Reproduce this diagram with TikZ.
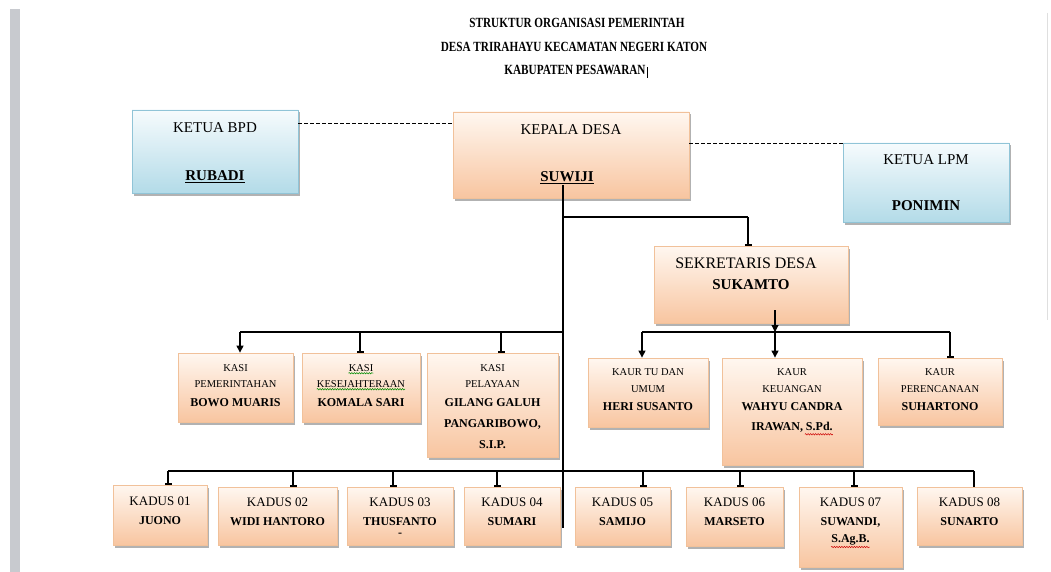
\documentclass[tikz,border=0pt]{standalone}
\usepackage{fontspec}
\setmainfont{Liberation Serif}
\newfontfamily\titlefont[FakeStretch=0.8]{Liberation Serif}
\usetikzlibrary{arrows.meta,shadows,fit,decorations.pathmorphing}
\definecolor{ortop}{HTML}{FFF7F0}
\definecolor{orbot}{HTML}{F8C5A0}
\definecolor{orline}{HTML}{F1C19A}
\definecolor{bltop}{HTML}{F6FBFD}
\definecolor{blbot}{HTML}{B3DBE8}
\definecolor{blline}{HTML}{90C4D7}
\definecolor{pagebar}{HTML}{C8CACF}
\tikzset{
  x=1pt, y=1pt,
  shad/.style={drop shadow={shadow xshift=1.5pt, shadow yshift=-2.5pt, fill=black!55, opacity=.55}},
  obox/.style={shad, draw=orline, line width=0.8pt, top color=ortop, bottom color=orbot, inner sep=0pt},
  bbox/.style={shad, draw=blline, line width=0.8pt, top color=bltop, bottom color=blbot, inner sep=0pt},
  big/.style={inner sep=0pt, font=\fontsize{15}{17}\selectfont},
  bigb/.style={inner sep=0pt, font=\fontsize{15}{17}\selectfont\bfseries},
  sekf/.style={inner sep=0pt, font=\fontsize{16}{18}\selectfont},
  sml/.style={inner sep=0pt, font=\fontsize{10.5}{12}\selectfont},
  smlb/.style={inner sep=0pt, font=\fontsize{12}{14}\selectfont\bfseries},
  kad/.style={inner sep=0pt, font=\fontsize{13}{15}\selectfont},
  ttl/.style={inner sep=0pt, font=\titlefont\bfseries\fontsize{14}{16}\selectfont},
  bar/.style={line width=2.3pt},
  main/.style={line width=2pt},
  drop/.style={line width=1.1pt},
  tee/.style={-{Bar[width=7pt,line width=1.6pt]}},
  arr/.style={-{Triangle[width=7pt,length=7pt]}},
  dsh/.style={line width=1pt, dash pattern=on 3.5pt off 2.5pt},
  squigg/.style={draw=green!55!black, line width=0.5pt, decorate, decoration={snake, amplitude=0.7pt, segment length=2.5pt}},
  squigr/.style={draw=red!80!black, line width=0.5pt, decorate, decoration={snake, amplitude=0.7pt, segment length=2.5pt}},
}
\newcommand\putlabel[5]{\node[#4] (#1) at (#2,-#3) {#5};}
\begin{document}
\begin{tikzpicture}
\useasboundingbox (0,0) rectangle (1051,-572);
\fill[white] (0,0) rectangle (1051,-572);
% page edges
\fill[pagebar] (10,-9) rectangle (20,-572);
\draw[gray!25, line width=0.8pt] (1047,-13) -- (1047,-320);

% title
\putlabel{t1}{577}{23}{ttl}{STRUKTUR ORGANISASI PEMERINTAH}
\putlabel{t2}{574}{47}{ttl}{DESA TRIRAHAYU KECAMATAN NEGERI KATON}
\putlabel{t3}{575}{70}{ttl}{KABUPATEN PESAWARAN}
\draw[line width=0.9pt] ([xshift=1.5pt,yshift=-2pt]t3.north east) -- ([xshift=1.5pt,yshift=-3pt]t3.south east);

% boxes
\node[bbox, fit={(132,-110)(298,-193)}] (bpd) {};
\node[obox, fit={(453,-112)(689,-198)}] (kd) {};
\node[bbox, fit={(843,-143)(1009,-222)}] (lpm) {};
\node[obox, fit={(654,-246)(848,-323)}] (sek) {};
\node[obox, fit={(178,-353)(293,-422)}] (kasi1) {};
\node[obox, fit={(302,-353)(420,-422)}] (kasi2) {};
\node[obox, fit={(427,-353)(558,-457)}] (kasi3) {};
\node[obox, fit={(588,-358)(708,-427)}] (kaur1) {};
\node[obox, fit={(722,-358)(862,-465)}] (kaur2) {};
\node[obox, fit={(878,-358)(1002,-425)}] (kaur3) {};
\node[obox, fit={(113,-485)(207,-545)}] (kadus1) {};
\node[obox, fit={(218,-487)(337,-545)}] (kadus2) {};
\node[obox, fit={(347,-487)(453,-545)}] (kadus3) {};
\node[obox, fit={(464,-487)(560,-545)}] (kadus4) {};
\node[obox, fit={(575,-487)(670,-545)}] (kadus5) {};
\node[obox, fit={(686,-487)(783,-546)}] (kadus6) {};
\node[obox, fit={(799,-487)(902,-567)}] (kadus7) {};
\node[obox, fit={(917,-487)(1022,-545)}] (kadus8) {};

% texts
\putlabel{bpda}{215}{128}{big}{KETUA BPD}
\putlabel{bpdb}{215}{177}{bigb}{\underline{RUBADI}}
\putlabel{kda}{571}{130}{big}{KEPALA DESA}
\putlabel{kdb}{567}{178}{bigb}{\underline{SUWIJI}}
\putlabel{lpma}{926}{160}{big}{KETUA LPM}
\putlabel{lpmb}{926}{206}{bigb}{PONIMIN}
\putlabel{seka}{746}{263}{sekf}{SEKRETARIS DESA}
\putlabel{sekb}{751}{285}{bigb}{SUKAMTO}

\putlabel{ks1a}{235.5}{368}{sml}{KASI}
\putlabel{ks1b}{235.5}{384}{sml}{PEMERINTAHAN}
\putlabel{ks1c}{235.5}{403}{smlb}{BOWO MUARIS}
\putlabel{ks2a}{361}{368}{sml}{KASI}
\putlabel{ks2b}{361}{384}{sml}{KESEJAHTERAAN}
\putlabel{ks2c}{361}{403}{smlb}{KOMALA SARI}
\putlabel{ks3a}{492.5}{368}{sml}{KASI}
\putlabel{ks3b}{492.5}{384}{sml}{PELAYAAN}
\putlabel{ks3c}{492.5}{403}{smlb}{GILANG GALUH}
\putlabel{ks3d}{492.5}{424}{smlb}{PANGARIBOWO,}
\putlabel{ks3e}{492.5}{445}{smlb}{S.I.P.}

\putlabel{kr1a}{648}{372}{sml}{KAUR TU DAN}
\putlabel{kr1b}{648}{389}{sml}{UMUM}
\putlabel{kr1c}{648}{407}{smlb}{HERI SUSANTO}
\putlabel{kr2a}{792}{372}{sml}{KAUR}
\putlabel{kr2b}{792}{389}{sml}{KEUANGAN}
\putlabel{kr2c}{792}{407}{smlb}{WAHYU CANDRA}
\putlabel{kr2d}{792}{427}{smlb}{IRAWAN, S.Pd.}
\putlabel{kr3a}{940}{372}{sml}{KAUR}
\putlabel{kr3b}{940}{389}{sml}{PERENCANAAN}
\putlabel{kr3c}{940}{407}{smlb}{SUHARTONO}

\putlabel{kd1a}{160}{501}{kad}{KADUS 01}
\putlabel{kd1b}{160}{521}{smlb}{JUONO}
\putlabel{kd2a}{277.5}{502}{kad}{KADUS 02}
\putlabel{kd2b}{277.5}{522}{smlb}{WIDI HANTORO}
\putlabel{kd3a}{400}{502}{kad}{KADUS 03}
\putlabel{kd3b}{400}{522}{smlb}{THUSFANTO}
\putlabel{kd3c}{400}{535}{smlb}{-}
\putlabel{kd4a}{512}{502}{kad}{KADUS 04}
\putlabel{kd4b}{512}{522}{smlb}{SUMARI}
\putlabel{kd5a}{622.5}{502}{kad}{KADUS 05}
\putlabel{kd5b}{622.5}{522}{smlb}{SAMIJO}
\putlabel{kd6a}{734.5}{502}{kad}{KADUS 06}
\putlabel{kd6b}{734.5}{522}{smlb}{MARSETO}
\putlabel{kd7a}{850.5}{502}{kad}{KADUS 07}
\putlabel{kd7b}{850.5}{522}{smlb}{SUWANDI,}
\putlabel{kd7c}{850.5}{540}{smlb}{S.Ag.B.}
\putlabel{kd8a}{969.5}{502}{kad}{KADUS 08}
\putlabel{kd8b}{969.5}{522}{smlb}{SUNARTO}

% spell-check marks
\draw[squigg] ([yshift=-1.5pt]ks2a.south west) -- ([yshift=-1.5pt]ks2a.south east);
\draw[squigg] ([yshift=-1.5pt]ks2b.south west) -- ([yshift=-1.5pt]ks2b.south east);
\draw[squigr] ([xshift=-28pt,yshift=-2pt]kr2d.south east) -- ([yshift=-2pt]kr2d.south east);
\draw[squigr] ([yshift=-1.5pt]kd7c.south west) -- ([yshift=-1.5pt]kd7c.south east);

% coordinates
\coordinate (d1) at (298,-124);
\coordinate (d2) at (689,-144);
\coordinate (m0) at (563,-185);
\coordinate (m1) at (563,-528);
\coordinate (bs) at (563,-217);
\coordinate (se) at (748,-217);
\coordinate (ka) at (563,-332);
\coordinate (j1) at (240,-332);
\coordinate (j2) at (360,-332);
\coordinate (j3) at (501,-332);
\coordinate (sk) at (775,-310);
\coordinate (r1) at (642,-332);
\coordinate (r2) at (775,-332);
\coordinate (r3) at (950,-332);
\coordinate (u1) at (168,-471);
\coordinate (u2) at (293,-471);
\coordinate (u3) at (393,-471);
\coordinate (u4) at (497,-471);
\coordinate (u5) at (643,-471);
\coordinate (u6) at (740,-471);
\coordinate (u7) at (854,-471);
\coordinate (u8) at (974,-471);

% dashed links
\draw[dsh] (d1) -- (d1 -| kd.west);
\draw[dsh] (d2) -- (d2 -| lpm.west);

% main line and bars
\draw[main] (m0) -- (m1);
\draw[bar] (bs) -- (se);
\draw[drop, tee] (se) -- (se |- sek.north);
\draw[bar] (j1) -- (ka);
\draw[bar] (r1) -- (r3);
\draw[bar] (u1) -- (u8);

% kasi drops
\draw[drop, arr] (j1) -- (j1 |- kasi1.north);
\draw[drop, tee] (j2) -- (j2 |- kasi2.north);
\draw[drop, tee] (j3) -- (j3 |- kasi3.north);

% sekretaris to kaur
\draw[drop, arr] (sk) -- (r2);
\draw[drop, arr] (r1) -- (r1 |- kaur1.north);
\draw[drop, arr] (r2) -- (r2 |- kaur2.north);
\draw[drop, tee] (r3) -- (r3 |- kaur3.north);

% kadus drops
\draw[drop, tee] (u1) -- (u1 |- kadus1.north);
\draw[drop, tee] (u2) -- (u2 |- kadus2.north);
\draw[drop, tee] (u3) -- (u3 |- kadus3.north);
\draw[drop, tee] (u4) -- (u4 |- kadus4.north);
\draw[drop, tee] (u5) -- (u5 |- kadus5.north);
\draw[drop, tee] (u6) -- (u6 |- kadus6.north);
\draw[drop, tee] (u7) -- (u7 |- kadus7.north);
\draw[drop] (u8) -- (u8 |- kadus8.north);
\end{tikzpicture}
\end{document}
